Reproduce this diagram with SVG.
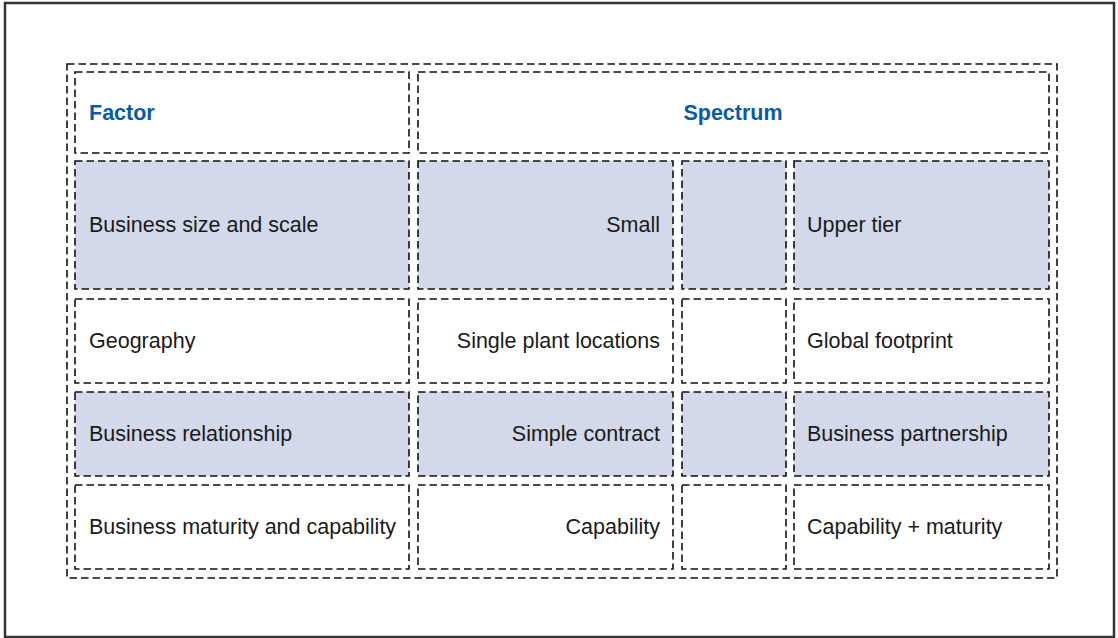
<svg xmlns="http://www.w3.org/2000/svg" width="1118" height="638" viewBox="0 0 1118 638">
<style>
.frame{fill:#fff;stroke:#333;stroke-width:2.5}
.cell{stroke:#111;stroke-width:1.6;stroke-dasharray:7.5 4;fill:#fff}
.sh{fill:#d3d8eb}
.outer{fill:none;stroke:#111;stroke-width:1.6;stroke-dasharray:7.5 4}
text{font-family:"Liberation Sans",Arial,Helvetica,sans-serif;font-size:21.5px;fill:#1a1a1a}
.hd{fill:#0b5aa6;font-weight:bold}
.r{text-anchor:end}
.c{text-anchor:middle}
</style>
<rect class="frame" x="5" y="3" width="1109" height="634"/>
<rect class="outer" x="67" y="64" width="990" height="514"/>
<g id="header">
<g id="h-factor"><rect class="cell" x="75" y="72" width="334" height="81"/><text class="hd" x="89" y="120">Factor</text></g>
<g id="h-spectrum"><rect class="cell" x="418" y="72" width="631" height="81"/><text class="hd c" x="733" y="120">Spectrum</text></g>
</g>
<g id="row1">
<g id="r1c1"><rect class="cell sh" x="75" y="161" width="334" height="128"/><text x="89" y="232">Business size and scale</text></g>
<g id="r1c2"><rect class="cell sh" x="418" y="161" width="255" height="128"/><text class="r" x="660" y="232">Small</text></g>
<g id="r1c3"><rect class="cell sh" x="682" y="161" width="104" height="128"/></g>
<g id="r1c4"><rect class="cell sh" x="794" y="161" width="255" height="128"/><text x="807" y="232">Upper tier</text></g>
</g>
<g id="row2">
<g id="r2c1"><rect class="cell" x="75" y="299" width="334" height="84"/><text x="89" y="348">Geography</text></g>
<g id="r2c2"><rect class="cell" x="418" y="299" width="255" height="84"/><text class="r" x="660" y="348">Single plant locations</text></g>
<g id="r2c3"><rect class="cell" x="682" y="299" width="104" height="84"/></g>
<g id="r2c4"><rect class="cell" x="794" y="299" width="255" height="84"/><text x="807" y="348">Global footprint</text></g>
</g>
<g id="row3">
<g id="r3c1"><rect class="cell sh" x="75" y="392" width="334" height="84"/><text x="89" y="441">Business relationship</text></g>
<g id="r3c2"><rect class="cell sh" x="418" y="392" width="255" height="84"/><text class="r" x="660" y="441">Simple contract</text></g>
<g id="r3c3"><rect class="cell sh" x="682" y="392" width="104" height="84"/></g>
<g id="r3c4"><rect class="cell sh" x="794" y="392" width="255" height="84"/><text x="807" y="441">Business partnership</text></g>
</g>
<g id="row4">
<g id="r4c1"><rect class="cell" x="75" y="485" width="334" height="84"/><text x="89" y="534">Business maturity and capability</text></g>
<g id="r4c2"><rect class="cell" x="418" y="485" width="255" height="84"/><text class="r" x="660" y="534">Capability</text></g>
<g id="r4c3"><rect class="cell" x="682" y="485" width="104" height="84"/></g>
<g id="r4c4"><rect class="cell" x="794" y="485" width="255" height="84"/><text x="807" y="534">Capability + maturity</text></g>
</g>
<g id="connectors"/>
</svg>
